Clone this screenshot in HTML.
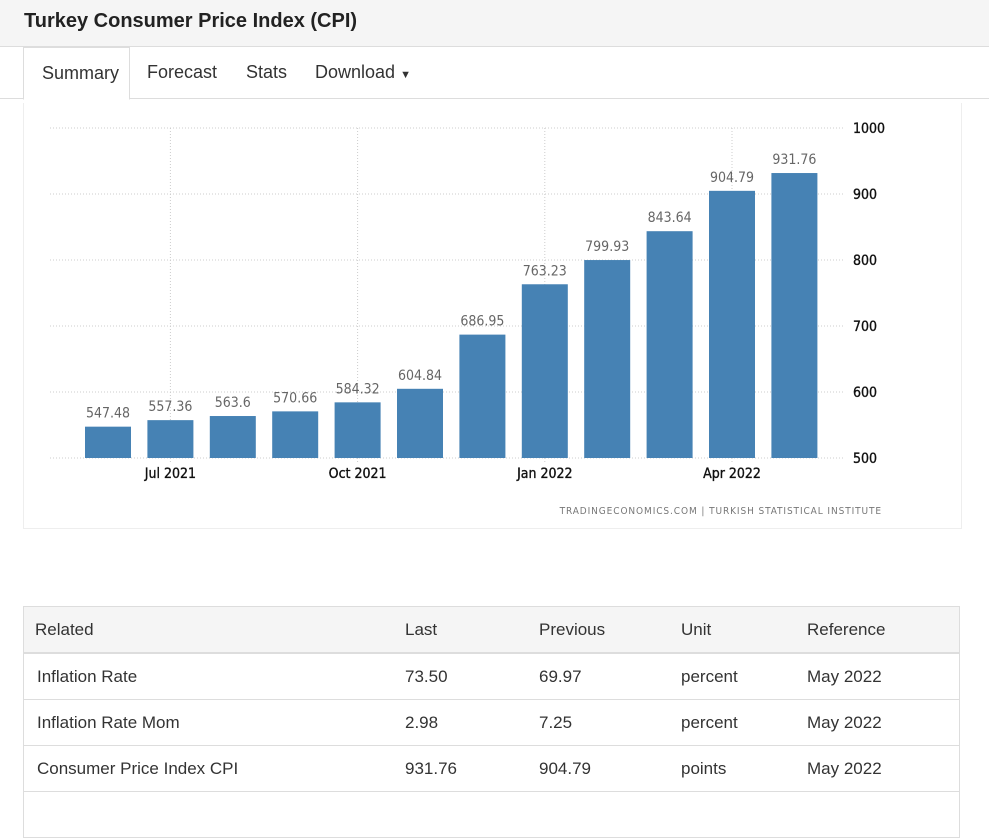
<!DOCTYPE html>
<html><head><meta charset="utf-8"><style>
body{margin:0;width:989px;height:794px;overflow:hidden;background:#fff;font-family:"Liberation Sans",Arial,sans-serif;color:#333;position:relative}
.hdr{position:absolute;left:0;top:0;width:989px;height:46px;background:#f5f5f5;border-bottom:1px solid #ddd}
.hdr h1{margin:0;position:absolute;left:24px;top:10px;font-size:20px;font-weight:bold;color:#222}
.tabs{position:absolute;left:0;top:47px;width:989px;height:51px;border-bottom:1px solid #ddd}
.tab{position:absolute;top:15px;font-size:18px;color:#333}
.tab.active{top:0;left:23px;width:105px;height:51px;border:1px solid #ddd;border-bottom:1px solid #fff;background:#fff}
.panel{position:absolute;left:23px;top:103px;width:937px;height:425px;border:1px solid #eee;border-top:none}
table{position:absolute;left:23px;top:606px;width:937px;border-collapse:collapse;font-size:17px;border:1px solid #ddd}
th{background:#f5f5f5;font-weight:normal;text-align:left;height:45px;border-bottom:2px solid #ddd;padding:0 0 0 11px}
td{height:45px;border-top:1px solid #ddd;padding:0 0 0 13px}
td+td{padding-left:11px}
</style></head><body>
<div class="hdr"><h1>Turkey Consumer Price Index (CPI)</h1></div>
<div class="tabs">
<div class="tab active"><span style="position:absolute;left:18px;top:15px">Summary</span></div>
<div class="tab" style="left:147px">Forecast</div>
<div class="tab" style="left:246px">Stats</div>
<div class="tab" style="left:315px">Download <span style="font-size:11px">&#9660;</span></div>
</div>
<div class="panel"></div>
<svg id="chart" width="989" height="540" style="position:absolute;left:0;top:0"></svg>
<table>
<tr><th style="width:359px">Related</th><th style="width:123px">Last</th><th style="width:131px">Previous</th><th style="width:115px">Unit</th><th>Reference</th></tr>
<tr><td>Inflation Rate</td><td>73.50</td><td>69.97</td><td>percent</td><td>May 2022</td></tr>
<tr><td>Inflation Rate Mom</td><td>2.98</td><td>7.25</td><td>percent</td><td>May 2022</td></tr>
<tr><td>Consumer Price Index CPI</td><td>931.76</td><td>904.79</td><td>points</td><td>May 2022</td></tr>
<tr><td>&nbsp;</td><td></td><td></td><td></td><td></td></tr>
</table>
<script>
const categories=["Jun 2021","Jul 2021","Aug 2021","Sep 2021","Oct 2021","Nov 2021","Dec 2021","Jan 2022","Feb 2022","Mar 2022","Apr 2022","May 2022"];
const values=[547.48,557.36,563.6,570.66,584.32,604.84,686.95,763.23,799.93,843.64,904.79,931.76];
const valueLabels=["547.48","557.36","563.6","570.66","584.32","604.84","686.95","763.23","799.93","843.64","904.79","931.76"];
const yTicks=[500,600,700,800,900,1000];
const xTickIdx=[1,4,7,10];
const xTickLabels=["Jul 2021","Oct 2021","Jan 2022","Apr 2022"];
const svg=document.getElementById('chart');const NS='http://www.w3.org/2000/svg';
const y=v=>458-(v-500)*0.66;
const xc=i=>108+i*62.4;
function mk(t,a,txt){const e=document.createElementNS(NS,t);for(const k in a)e.setAttribute(k,a[k]);if(txt!==undefined)e.textContent=txt;svg.appendChild(e);return e;}
const F='DejaVu Sans Condensed, DejaVu Sans, sans-serif';
yTicks.forEach(v=>{
 const l=mk('line',{x1:50,x2:845,y1:y(v),y2:y(v),stroke:'#ccc','stroke-dasharray':'1,2'});
 
 
 const t=mk('text',{x:853,y:y(v)+5,'font-size':14,fill:'#111',stroke:'#111','stroke-width':0.35,'font-family':F},String(v));
 
 
});
xTickIdx.forEach((i,k)=>{
 const l=mk('line',{x1:xc(i),x2:xc(i),y1:128,y2:463,stroke:'#ccc','stroke-dasharray':'1,2'});
 
 
 const t=mk('text',{x:xc(i),y:478,'font-size':14,fill:'#111',stroke:'#111','stroke-width':0.35,'text-anchor':'middle','font-family':F},xTickLabels[k]);
 
 
});
values.forEach((v,i)=>{
 const r=mk('rect',{x:xc(i)-23,y:y(v),width:46,height:458-y(v),fill:'#4682b4'});
 
 
 const t=mk('text',{x:xc(i),y:y(v)-9,'font-size':14,fill:'#666','text-anchor':'middle','font-family':F},valueLabels[i]);
 
 
});
const s=mk('text',{x:882,y:514,'font-size':10,fill:'#777','text-anchor':'end','letter-spacing':'0.9','font-family':F},'TRADINGECONOMICS.COM  |  TURKISH STATISTICAL INSTITUTE');


</script>
</body></html>
